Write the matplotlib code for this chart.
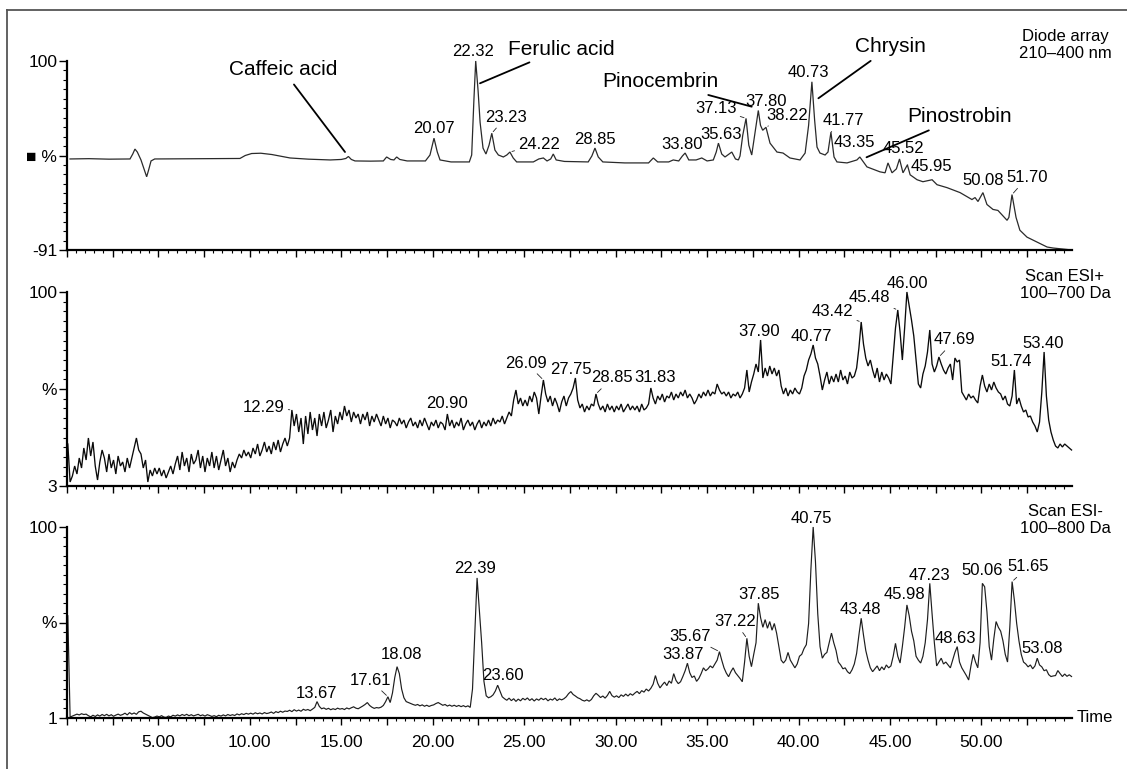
import numpy as np
import matplotlib
matplotlib.use("Agg")
import matplotlib.pyplot as plt
from matplotlib.ticker import MultipleLocator, FixedLocator, FuncFormatter
from matplotlib.transforms import Affine2D
from matplotlib.lines import Line2D

plt.rcParams['font.family'] = ['Liberation Sans', 'DejaVu Sans']

# ---------------- data ----------------
# Diode array trace (time in min, signal in % scale of the panel)
DAD_TIME = [0.17, 1.2, 2.3, 3.3, 3.45, 3.6, 3.72, 3.85, 4.05, 4.25, 4.36, 4.47, 4.6, 4.8,
            6.5, 8.5, 9.46, 9.75, 10.1, 10.6, 11.2, 12.2, 13.2, 14.4, 15.0, 15.25, 15.39,
            15.55, 15.75, 16.6, 17.3, 17.48, 17.7, 17.88, 18.03, 18.2, 18.6, 19.6, 19.85,
            20.07, 20.25, 20.4, 21.0, 22.0, 22.13, 22.25, 22.35, 22.48, 22.59, 22.75, 22.91,
            23.08, 23.23, 23.4, 23.59, 23.86, 24.05, 24.22, 24.4, 24.59, 25.5, 25.8, 26.05,
            26.25, 26.45, 26.59, 26.75, 27.2, 28.5, 28.7, 28.87, 29.05, 29.3, 30.5, 31.8,
            32.06, 32.3, 32.9, 33.15, 33.45, 33.65, 33.8, 34.0, 34.4, 34.71, 35.0, 35.34,
            35.5, 35.62, 35.8, 35.98, 36.2, 36.35, 36.55, 36.71, 36.8, 36.95, 37.13, 37.28,
            37.44, 37.6, 37.8, 37.92, 38.04, 38.22, 38.44, 38.82, 39.15, 39.53, 40.08, 40.36,
            40.55, 40.73, 40.88, 41.01, 41.17, 41.45, 41.61, 41.77, 41.94, 42.1, 42.65, 43.19,
            43.35, 43.74, 44.45, 44.73, 44.89, 45.11, 45.35, 45.52, 45.71, 45.95, 46.1, 46.48,
            46.8, 47.3, 47.57, 48.12, 48.83, 49.48, 49.65, 49.81, 50.08, 50.3, 50.63, 50.9,
            51.4, 51.5, 51.67, 51.89, 52.1, 52.49, 53.04, 53.59, 53.92, 54.95]
DAD_SIGNAL = [1, 1.3, 0.8, 1, 1, 6, 11, 8, 0, -11, -17, -10, -1, 1,
              1.2, 1.4, 1.5, 4.5, 6.5, 6.8, 5.5, 2, 0.8, 0, 0.5, 1.5, 3.5,
              0.5, -1, -1.2, -1, 3, 0.5, 0, 3, 0.5, -1, -1, 5,
              22, 8, 0, -2, -2, 5, 60, 100, 70, 38, 12, 6,
              15, 27, 10, 5, 3, 5, 8, 2, -2, -2, 1, 2,
              -1, 1, 6, 0, -1.5, -2, 4, 12, 3, -2, -3, -3,
              2, -2, -2, 0, -1, 4, 7, 0, 0, 2, -1, 0,
              8, 17, 6, 3, 6, 8, 1, 0, 4, 25, 42, 15,
              5, 25, 50, 35, 30, 33, 17, 8, 7, 2, 0, 7,
              35, 79, 40, 13, 7, 5, 8, 28, 3, -2, -3, 0,
              3, -7, -12, -13, -3, -13, -9, 1, -13, -5, -15, -20,
              -22, -20, -25, -28, -33, -40, -38, -42, -33, -45, -50, -51,
              -61, -58, -35, -58, -71, -78, -83, -88, -89, -91]

# ESI scans: one value every ESI_STEP minutes starting at ESI_START
ESI_START = 0.05
ESI_STEP = 0.125
ESI_POS = [
    24, 5, 8, 13, 9, 17, 12, 22,
    16, 27, 18, 25, 13, 6, 15, 21,
    17, 10, 19, 12, 16, 9, 18, 13,
    15, 10, 17, 12, 17, 22, 27, 21,
    19, 12, 16, 5, 11, 8, 12, 9,
    12, 8, 11, 7, 10, 13, 9, 14,
    18, 11, 20, 13, 17, 10, 19, 14,
    16, 21, 12, 18, 10, 17, 13, 20,
    12, 18, 11, 16, 21, 13, 17, 10,
    15, 12, 16, 19, 17, 21, 18, 20,
    17, 22, 19, 24, 18, 21, 25, 20,
    23, 19, 25, 21, 26, 20, 24, 27,
    23, 27, 41, 33, 39, 30, 37, 24,
    38, 29, 40, 31, 37, 28, 39, 33,
    40, 32, 36, 41, 30, 38, 34, 40,
    36, 43, 38, 41, 35, 40, 37, 39,
    34, 39, 36, 40, 33, 38, 35, 39,
    36, 33, 38, 34, 37, 32, 36, 35,
    33, 37, 34, 36, 32, 35, 37, 33,
    35, 32, 36, 33, 37, 34, 31, 35,
    33, 36, 32, 35, 34, 31, 39, 33,
    36, 32, 35, 33, 37, 31, 34, 36,
    33, 35, 31, 34, 36, 32, 35, 33,
    36, 33, 37, 34, 36, 35, 38, 34,
    37, 40, 38, 46, 51, 44, 47, 43,
    46, 43, 48, 45, 50, 47, 39, 48,
    56, 49, 45, 48, 43, 47, 44, 40,
    45, 48, 43, 47, 49, 52, 57, 46,
    42, 44, 40, 43, 41, 44, 43, 49,
    44, 41, 43, 40, 44, 41, 43, 40,
    43, 41, 44, 40, 42, 44, 41, 43,
    41, 43, 40, 44, 41, 42, 44, 52,
    47, 44, 48, 46, 49, 45, 48, 47,
    50, 46, 49, 47, 50, 48, 51, 47,
    49, 47, 44, 46, 49, 47, 50, 48,
    51, 48, 50, 49, 54, 51, 49, 50,
    48, 50, 47, 49, 48, 50, 47, 49,
    52, 61, 50, 55, 59, 64, 60, 76,
    57, 62, 58, 63, 59, 62, 58, 61,
    53, 49, 52, 48, 51, 49, 52, 50,
    49, 52, 58, 61, 66, 69, 73.5, 67,
    64, 58, 51, 56, 60, 54, 58, 55,
    59, 55, 61, 56, 58, 54, 60, 57,
    58, 62, 72, 85, 74, 67, 63, 66,
    61, 57, 62, 55, 60, 56, 59, 57,
    54, 68, 82, 91, 80, 66, 82, 100,
    93, 86, 78, 66, 54, 52, 59, 63,
    70, 81, 64, 60, 63, 67.5, 64, 61,
    59, 62, 64, 56, 67, 65, 66, 50,
    48, 46, 49, 47, 48, 46, 44.5, 53,
    58.5, 53, 50, 54, 51, 55, 52, 50,
    49, 46, 48, 44, 43, 48, 61, 44,
    47, 43, 40, 41, 37.5, 38, 35, 33,
    30, 35, 50, 70, 48, 36, 30, 26,
    23, 22, 24, 22.5, 24, 23, 22, 21]
ESI_NEG = [
    54, 1.5, 2, 2.5, 3, 2.6, 3.2, 2.8,
    3.0, 2.2, 1.6, 2.4, 1.8, 2.6, 2.0, 2.8,
    2.2, 2.9, 2.1, 2.7, 1.9, 2.5, 3.0, 2.4,
    2.8, 3.5, 2.6, 3.8, 3.0, 3.6, 2.9, 4.2,
    4.5, 3.6, 3.0, 2.4, 1.8, 1.2, 1.5, 2.0,
    1.6, 2.2, 1.5, 1.3, 2.0, 1.6, 2.4, 2.0,
    2.6, 2.1, 2.8, 2.3, 2.9, 2.2, 2.7, 2.1,
    2.5, 2.9, 2.2, 2.6, 2.0, 2.7, 2.3, 1.8,
    2.2, 1.7, 2.4, 2.0, 2.6, 2.1, 2.8, 2.3,
    2.7, 2.3, 3.1, 2.6, 3.2, 2.8, 3.4, 3.0,
    3.5, 3.0, 3.7, 3.2, 3.6, 3.1, 3.8, 3.3,
    3.6, 4.1, 3.4, 4.3, 3.8, 4.5, 4.0, 4.6,
    4.4, 5.0, 4.3, 5.3, 4.6, 5.1, 4.5, 5.5,
    5.0, 5.4, 4.8, 5.6, 6.5, 9.5, 7.0, 5.8,
    6.2, 5.5, 6.0, 5.3, 5.8, 5.4, 6.1, 5.6,
    5.9, 5.4, 6.2, 5.7, 6.3, 6.8, 6.1, 5.8,
    6.5, 7.2, 8.0, 9.0, 7.5, 6.6, 6.0, 6.4,
    6.2, 6.6, 7.5, 9.5, 12.0, 9.0, 14.0, 22.0,
    27.6, 24, 16, 11.5, 9.5, 9.0, 8.5, 8.0,
    7.6, 8.0, 7.3, 7.8, 7.1, 7.6, 7.0, 7.5,
    7.8, 8.5, 9.0, 8.3, 7.6, 8.0, 7.2, 7.7,
    7.1, 7.6, 7.0, 7.5, 6.9, 7.4, 6.8, 7.3,
    6.5, 16, 45, 73.6, 57, 40, 20, 12.5,
    11.5, 12, 13, 15, 18, 15, 12, 11,
    10.2, 11.3, 10.0, 11.0, 9.6, 10.8, 9.9, 11.2,
    10.4, 11.4, 10.1, 11.0, 9.8, 10.9, 10.2, 11.3,
    10.5, 11.2, 9.9, 10.8, 10.3, 11.4, 10.0, 10.9,
    10.4, 11.0, 12.0, 13.6, 14.7, 13.2, 12.4, 11.5,
    11.0, 10.2, 9.8, 10.4, 9.7, 10.6, 12.5, 13.8,
    12.8, 11.6, 12.4, 11.3, 12.7, 14.8, 12.6, 11.8,
    12.5, 11.6, 13.0, 12.2, 13.4, 12.4, 13.6, 12.8,
    13.9, 14.8, 13.6, 15.2, 14.4, 16.0, 15.0, 16.4,
    18.5, 23, 19, 16.6, 18.2, 19.6, 17.8, 20.2,
    19.0, 24, 20.5, 18.8, 19.8, 22.5, 25.5, 29.4,
    24.5, 22, 22.8, 20, 21.5, 24, 27, 25.5,
    26.5, 28, 27, 29, 31, 35.4, 31, 27,
    24.3, 22.4, 25, 27, 24.5, 23, 21.5, 19.8,
    30, 42.3, 33, 27.6, 34, 40, 60.5, 53,
    48, 52, 47.5, 51, 46.5, 50, 45, 38,
    31, 29.5, 31, 35, 31, 29, 27, 29,
    33, 34, 37, 39, 50, 78, 100, 82,
    55, 38, 32, 34, 35, 40, 45, 40,
    36, 30, 28.5, 26.5, 27, 25, 24, 26,
    29, 34.5, 44, 52.7, 44, 36, 31, 27,
    25, 26.5, 28, 25.5, 27.5, 26, 28.5, 27,
    28, 33, 39.7, 33, 29.5, 38, 48, 59.6,
    54, 46, 41, 33, 31, 29.5, 33, 40,
    52, 70.8, 55, 40, 28, 30, 32, 29,
    30, 28.5, 27, 31, 35, 38, 30, 27,
    25, 23, 20.7, 28, 34, 30, 27, 40,
    70.8, 69, 56, 38, 31, 42, 51, 48,
    46, 41, 34, 30, 48, 71.7, 62, 50,
    41, 34, 30, 29, 27.5, 28.5, 26.5, 28,
    32, 28.5, 27.5, 25.5, 26, 23.5, 22.5, 22.8,
    23, 25.6, 24, 22.5, 23.8, 22.6, 23.4, 22.5]

# panel scales and captions
Y_MIN = [-91, 3, 1]
Y_MAX = [100, 100, 100]
MID_LABELS = ["\u25a0 %", "%", "%"]
CAPTIONS = ["Diode array\n210\u2013400 nm", "Scan ESI+\n100\u2013700 Da", "Scan ESI-\n100\u2013800 Da"]

# labelled peaks (retention times)
DAD_PEAKS = ["20.07", "22.32", "23.23", "24.22", "28.85", "33.80", "35.63", "37.13", "37.80",
             "38.22", "40.73", "41.77", "43.35", "45.52", "45.95", "50.08", "51.70"]
POS_PEAKS = ["12.29", "20.90", "26.09", "27.75", "28.85", "31.83", "37.90", "40.77", "43.42",
             "45.48", "46.00", "47.69", "51.74", "53.40"]
NEG_PEAKS = ["13.67", "17.61", "18.08", "22.39", "23.60", "33.87", "35.67", "37.22", "37.85",
             "40.75", "43.48", "45.98", "47.23", "48.63", "50.06", "51.65", "53.08"]
COMPOUNDS = ["Caffeic acid", "Ferulic acid", "Pinocembrin", "Chrysin", "Pinostrobin"]
COMPOUND_PEAKS = [15.39, 22.32, 37.80, 40.73, 43.35]

# ---------------- layout (pixels) ----------------
DAD_LAYOUT = [(0, 10, 0), (-3, 10, 0), (14, 16, 1), (29, 8, 1), (0, 9, 0), (-3, 9, 0), (3, 9, 0),
              (-30, 10, 1), (8, 9, 0), (21, 12, 1), (-4, 9, 0), (12, 11.5, 1), (-5, 14, 0),
              (3.5, 10, 0), (24, -2, 1), (0, 12, 0), (15, 17, 1)]
POS_LAYOUT = [(-28, 3, 1), (0, 10, 0), (-17, 17, 1), (-4, 8, 0), (16, 16, 1), (4, 10, 0),
              (-1, 8.5, 0), (-1.5, 8.5, 0), (-28.5, 10, 1), (-28, 12, 1), (0.5, 8.7, 0),
              (16, 17, 1), (-3, 8, 0), (-1, 9, 0)]
NEG_LAYOUT = [(-1, 8.5, 0), (-17.5, 16.7, 1), (4, 12, 0), (-1.7, 9, 0), (5, 10, 0), (-4.7, 8.5, 0),
              (-29.4, 15, 1), (-12, 16.6, 1), (0.7, 8.5, 0), (-2.3, 8.7, 0), (-1.2, 8.5, 0),
              (-2, 10, 0), (-0.5, 8, 0), (-2.2, 8.5, 0), (-0.6, 13, 0), (16.3, 15, 1), (4.5, 10, 0)]
# (end dx, end dy, text dx, text dy) relative to the peak apex / line end
COMPOUND_LAYOUT = [(-3.4, 4.5, -62, 82), (4.3, -22.3, 81, 34.3), (-6.6, 3.8, -91.7, 24.7),
                   (6.5, -16.5, 71.7, 51.3), (6.7, -0.3, 93.3, 40.3)]

W, H = 1127, 769
X_LEFT, X_RIGHT = 66.9, 1072.0
PANEL_PX = [(61, 250), (292, 486), (527, 718)]
T_MAX = 54.95
NUM_FS = 12
TICK_FS = 12.5

fig = plt.figure(figsize=(W / 100, H / 100), dpi=100)

esi_time = ESI_START + ESI_STEP * np.arange(len(ESI_POS))
traces = [(np.array(DAD_TIME), np.array(DAD_SIGNAL, float), '#2a2a2a', 0.9),
          (esi_time, np.array(ESI_POS, float), '#0a0a0a', 0.95),
          (esi_time, np.array(ESI_NEG, float), '#1e1e1e', 0.85)]
peak_sets = [(DAD_PEAKS, DAD_LAYOUT), (POS_PEAKS, POS_LAYOUT), (NEG_PEAKS, NEG_LAYOUT)]


def apex(t, v, lt, win=0.13):
    m = np.abs(t - lt) <= win
    idx = np.where(m)[0]
    i = idx[np.argmax(v[idx])]
    return t[i], v[i]


axes = []
for k, (top, bot) in enumerate(PANEL_PX):
    ax = fig.add_axes([X_LEFT / W, 1 - bot / H, (X_RIGHT - X_LEFT) / W, (bot - top) / H])
    axes.append(ax)
    t, v, col, lw = traces[k]
    ax.plot(t, v, color=col, lw=lw, clip_on=False, solid_joinstyle='miter')
    ax.set_xlim(0, T_MAX)
    ax.set_ylim(Y_MIN[k], Y_MAX[k])
    for s in ('top', 'right'):
        ax.spines[s].set_visible(False)
    for s in ('left', 'bottom'):
        ax.spines[s].set_linewidth(1.6)
    ax.xaxis.set_major_locator(MultipleLocator(2.5))
    ax.xaxis.set_minor_locator(MultipleLocator(0.5))
    if k == 2:
        ax.xaxis.set_major_formatter(FuncFormatter(
            lambda x, p: f"{x:.2f}" if (abs(x % 5) < 1e-6 and x > 0) else ""))
    else:
        ax.xaxis.set_major_formatter(FuncFormatter(lambda x, p: ""))
    ax.tick_params(axis='x', which='major', length=5, width=1, direction='out', pad=7,
                   labelsize=TICK_FS)
    ax.tick_params(axis='x', which='minor', length=2.5, width=0.8, direction='out')
    ymid = (Y_MIN[k] + Y_MAX[k]) / 2
    ax.yaxis.set_major_locator(FixedLocator([Y_MIN[k], ymid, Y_MAX[k]]))
    ax.set_yticklabels([str(Y_MIN[k]), MID_LABELS[k], str(Y_MAX[k])])
    ax.yaxis.set_minor_locator(FixedLocator(np.linspace(Y_MIN[k], Y_MAX[k], 21)))
    ax.tick_params(axis='y', which='major', length=6, width=1, direction='out', pad=1,
                   labelsize=TICK_FS)
    ax.tick_params(axis='y', which='minor', length=3, width=0.8, direction='out')
    ax.patch.set_alpha(0)

    # caption
    cy = [1.085, 1.036, 1.037][k]
    ax.text(0.993, cy, CAPTIONS[k], transform=ax.transAxes, ha='center', va='center',
            fontsize=12, linespacing=1.15, multialignment='center')

    # peak labels
    labels, layout = peak_sets[k]
    for lab, (dx, dy, lead) in zip(labels, layout):
        pt, pv = apex(t, v, float(lab))
        kw = dict(xy=(pt, pv), xytext=(dx, dy), textcoords='offset pixels',
                  ha='center', va='center', fontsize=NUM_FS, annotation_clip=False)
        if lead:
            kw['arrowprops'] = dict(arrowstyle='-', lw=0.6, color='#222222',
                                    shrinkA=0.5, shrinkB=1.5)
        ax.annotate(lab, **kw)

# compound names on the diode array panel
ax0 = axes[0]
t0, v0 = traces[0][0], traces[0][1]
for name, pk, (ex, ey, tx, ty) in zip(COMPOUNDS, COMPOUND_PEAKS, COMPOUND_LAYOUT):
    pt, pv = apex(t0, v0, pk)
    trans = ax0.transData + Affine2D().translate(ex, ey)
    ax0.annotate(name, xy=(pt, pv), xycoords=trans, xytext=(tx, ty), textcoords='offset pixels',
                 ha='center', va='center', fontsize=15, annotation_clip=False,
                 arrowprops=dict(arrowstyle='-', lw=1.3, color='black', shrinkA=2, shrinkB=0))

axes[2].text(1.005, 0, "Time", transform=axes[2].transAxes, ha='left', va='center', fontsize=12)

# outer frame (left and top edges)
fig.add_artist(Line2D([7 / W, 7 / W], [0, 1 - 10 / H], transform=fig.transFigure,
                      color='#555555', lw=1.3))
fig.add_artist(Line2D([7 / W, 1], [1 - 10 / H, 1 - 10 / H], transform=fig.transFigure,
                      color='#555555', lw=1.3))

fig.savefig("out.png", dpi=100)
